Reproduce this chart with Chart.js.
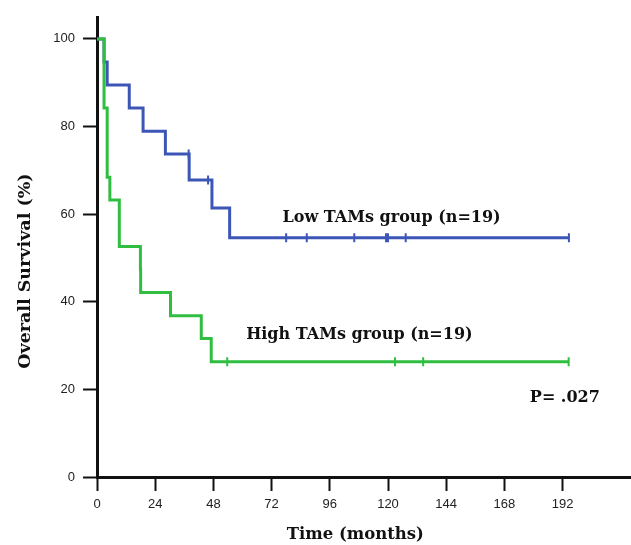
<!DOCTYPE html>
<html>
<head>
<meta charset="utf-8">
<script src="https://cdn.jsdelivr.net/npm/chart.js@4"></script>
<style>
  html, body { margin: 0; padding: 0; background: #fff; overflow: hidden; }
  #wrap { width: 631px; height: 545px; overflow: hidden; }
</style>
</head>
<body>
<div id="wrap"><canvas id="km" width="637" height="545"></canvas></div>
<script>
// curva de Kaplan-Meier (meses, % sobrevida)
const lowTimes   = [0, 2.9, 4.2, 13.3, 19.0, 28.2, 38.0, 47.4, 54.7, 194.6];
const lowSurv    = [100, 94.7, 89.5, 84.2, 78.9, 73.7, 67.8, 61.4, 54.6, 54.6];
const lowCensT   = [37.8, 45.8, 78.0, 86.5, 106.1, 119.2, 120.0, 127.3, 194.6];
const lowCensS   = [73.7, 67.8, 54.6, 54.6, 54.6, 54.6, 54.6, 54.6, 54.6];

const highTimes  = [0, 2.9, 4.2, 5.3, 9.2, 17.9, 18.0, 30.3, 43.0, 47.1, 194.5];
const highSurv   = [100, 84.2, 68.4, 63.2, 52.6, 47.4, 42.1, 36.8, 31.6, 26.3, 26.3];
const highCensT  = [53.7, 122.9, 134.5, 194.5];
const highCensS  = [26.3, 26.3, 26.3, 26.3];

const xTicks = [0, 24, 48, 72, 96, 120, 144, 168, 192];
const yTicks = [0, 20, 40, 60, 80, 100];

// textos da figura, posicionados em coordenadas de dados
const notes = [
  { text: 'Low TAMs group (n=19)',  x: 76.5, y: 59.1 },
  { text: 'High TAMs group (n=19)', x: 61.5, y: 32.4 },
  { text: 'P= .027',                x: 178.5, y: 18.0 }
];
const xTitle = 'Time (months)';
const yTitle = 'Overall Survival (%)';

const BLUE = 'rgb(60, 86, 182)';
const GREEN = 'rgb(48, 190, 64)';
const SERIF = '"DejaVu Serif", serif';

const pts = (xs, ys) => xs.map((x, i) => ({ x: x, y: ys[i] }));

const notesPlugin = {
  id: 'notes',
  afterDraw(chart) {
    const ctx = chart.ctx;
    const sx = chart.scales.x, sy = chart.scales.y;
    ctx.save();
    ctx.fillStyle = '#111';
    ctx.font = 'bold 16px ' + SERIF;
    ctx.textBaseline = 'middle';
    notes.forEach(n => ctx.fillText(n.text, sx.getPixelForValue(n.x), sy.getPixelForValue(n.y)));
    // titulos dos eixos
    ctx.textAlign = 'center';
    ctx.font = 'bold 16.5px ' + SERIF;
    ctx.fillText(xTitle, sx.getPixelForValue(106.5), 535);
    ctx.font = 'bold 17.5px ' + SERIF;
    ctx.translate(25, sy.getPixelForValue(47));
    ctx.rotate(-Math.PI / 2);
    ctx.fillText(yTitle, 0, 0);
    ctx.restore();
  }
};

new Chart(document.getElementById('km'), {
  type: 'line',
  data: {
    datasets: [
      {
        label: 'Low TAMs',
        data: pts(lowTimes, lowSurv),
        borderColor: BLUE,
        borderWidth: 3,
        stepped: 'before',
        pointRadius: 0,
        order: 2
      },
      {
        label: 'Low censored',
        type: 'scatter',
        data: pts(lowCensT, lowCensS),
        borderColor: BLUE,
        backgroundColor: BLUE,
        pointStyle: 'line',
        rotation: 90,
        pointRadius: 4.5,
        borderWidth: 2,
        order: 2
      },
      {
        label: 'High TAMs',
        data: pts(highTimes, highSurv),
        borderColor: GREEN,
        borderWidth: 3,
        stepped: 'before',
        pointRadius: 0,
        order: 1
      },
      {
        label: 'High censored',
        type: 'scatter',
        data: pts(highCensT, highCensS),
        borderColor: GREEN,
        backgroundColor: GREEN,
        pointStyle: 'line',
        rotation: 90,
        pointRadius: 4.5,
        borderWidth: 2,
        order: 1
      }
    ]
  },
  options: {
    responsive: false,
    animation: false,
    layout: { padding: { top: 17, right: 0, left: 0, bottom: 0 } },
    plugins: { legend: { display: false }, tooltip: { enabled: false } },
    scales: {
      x: {
        type: 'linear',
        min: 0,
        max: 220,
        afterBuildTicks: axis => { axis.ticks = xTicks.map(v => ({ value: v })); },
        afterFit: axis => { axis.height = 68; },
        grid: { drawOnChartArea: false, tickLength: 14, tickColor: '#111', tickWidth: 2 },
        border: { color: '#111', width: 3 },
        ticks: { color: '#222', font: { family: 'Liberation Sans', size: 13 }, padding: 6, maxRotation: 0 }
      },
      y: {
        min: 0,
        max: 105,
        afterBuildTicks: axis => { axis.ticks = yTicks.map(v => ({ value: v })); },
        afterFit: axis => { axis.width = 97; },
        grid: { drawOnChartArea: false, tickLength: 14, tickColor: '#111', tickWidth: 2 },
        border: { color: '#111', width: 3 },
        ticks: { color: '#222', font: { family: 'Liberation Sans', size: 13 }, padding: 8 }
      }
    }
  },
  plugins: [notesPlugin]
});
</script>
</body>
</html>
